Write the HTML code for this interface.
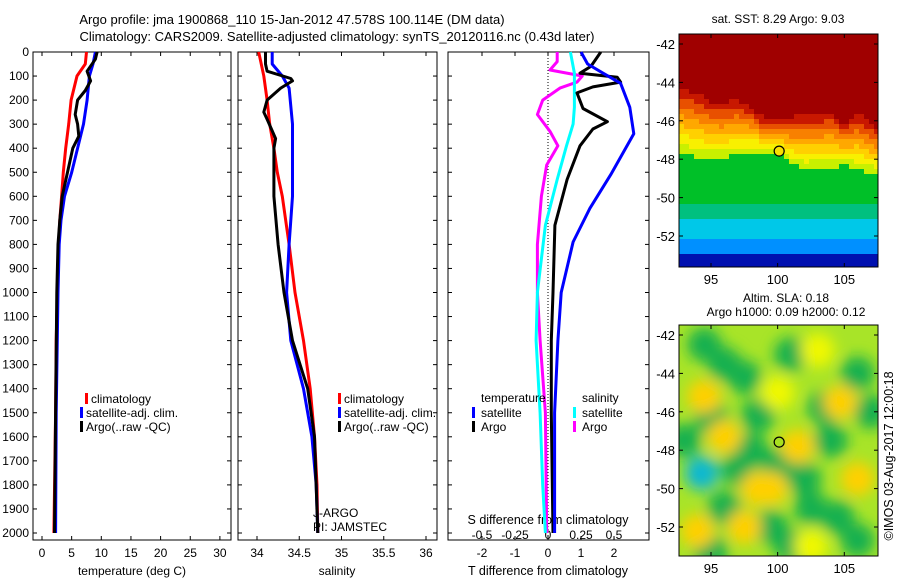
<!DOCTYPE html>
<html><head><meta charset="utf-8"><style>
body{margin:0;background:#fff;}
svg{display:block;font-family:"Liberation Sans",sans-serif;font-size:12px;}
</style></head><body>
<svg id="fig" width="900" height="580" viewBox="0 0 900 580">
<defs>
<filter id="blur1" x="-50%" y="-50%" width="200%" height="200%"><feGaussianBlur stdDeviation="7"/></filter>
<clipPath id="clipMap2"><rect x="679" y="325" width="199" height="231"/></clipPath>
<clipPath id="clipMap1"><rect x="679" y="34" width="199" height="233"/></clipPath>
</defs>
<text x="292" y="24" text-anchor="middle" font-size="13">Argo profile: jma 1900868_110 15-Jan-2012 47.578S 100.114E (DM data)</text>
<text x="337" y="41" text-anchor="middle" font-size="13">Climatology: CARS2009. Satellite-adjusted climatology: synTS_20120116.nc (0.43d later)</text>
<g id="layer"></g>
</svg>
<script>
// ---- data ----
const depthTC=[0,50,100,200,300,400,500,600,700,800,1000,1200,1500,2000];
const tempClim=[7.5,7.3,5.9,4.9,4.5,4.0,3.6,3.3,3.0,2.8,2.6,2.4,2.3,2.0];
const depthTS=[0,50,100,200,300,400,500,600,700,800,1000,1500,2000];
const tempSat=[9.0,8.6,8.0,7.6,7.0,6.0,5.0,3.8,3.2,2.9,2.7,2.4,2.3];
const depthTA=[0,30,80,120,160,200,260,300,350,400,500,600,700,800,1000,1500,2000];
const tempArgo=[9.3,9.0,7.6,8.2,7.3,6.0,5.6,6.0,6.2,5.2,4.3,3.4,3.0,2.7,2.5,2.3,2.1];
const depthSC=[0,100,200,300,400,500,600,800,1000,1200,1400,1600,1800,2000];
const salClim=[34.02,34.08,34.12,34.15,34.2,34.24,34.3,34.38,34.45,34.55,34.63,34.68,34.71,34.72];
const depthSS=[0,50,100,150,300,600,800,1000,1200,1400,1600,1800,2000];
const salSat=[34.18,34.18,34.3,34.38,34.42,34.42,34.38,34.35,34.4,34.55,34.65,34.7,34.72];
const depthSA=[0,50,80,110,120,150,200,250,280,320,360,400,600,800,1000,1200,1400,1600,2000];
const salArgo=[34.1,34.1,34.12,34.4,34.42,34.28,34.12,34.08,34.12,34.17,34.22,34.2,34.2,34.25,34.32,34.42,34.6,34.68,34.72];
const depthDB=[0,50,88,130,230,340,510,650,790,1000,1200,1500,2000];
const tDiffSat=[1.0,1.2,1.67,2.2,2.48,2.6,1.9,1.27,0.76,0.4,0.3,0.2,0.2];
const depthDK=[0,60,88,105,125,145,170,235,290,320,390,530,720,1000,1200,1500,2000];
const tDiffArgo=[1.6,1.3,0.97,2.1,2.2,1.36,0.88,1.06,1.8,1.36,0.97,0.58,0.21,0.15,0.1,0.1,0.15];
const depthDC=[0,88,230,300,390,530,720,1000,1200,1500,1800,2000];
const sDiffSat=[0.17,0.2,0.2,0.19,0.14,0.07,-0.02,-0.08,-0.09,-0.06,-0.04,-0.02];
const depthDM=[0,40,75,100,125,150,200,260,330,390,470,600,800,1000,1200,1500,2000];
const sDiffArgo=[0.07,0.07,0.015,0.26,0.22,0.09,-0.04,-0.08,0.015,0.075,-0.01,-0.05,-0.08,-0.08,-0.06,-0.02,-0.01];
const depthTicks=[0,100,200,300,400,500,600,700,800,900,1000,1100,1200,1300,1400,1500,1600,1700,1800,1900,2000];
const tempTicks=[0,5,10,15,20,25,30];
const salTicks=[34,34.5,35,35.5,36];
const tdTicks=[-2,-1,0,1,2];
const sdTicks=[-0.5,-0.25,0,0.25,0.5];
const latTicks=[-42,-44,-46,-48,-50,-52];
const lonTicks=[95,100,105];
// SST front: southward latitude of warm edge per longitude
const frontLon=[92.5,94,95,96,97,98,99,100,101,102,103,104,105,106,107.5];
const frontLat=[44.2,44.6,45.0,45.1,44.9,45.3,45.9,46.0,45.8,45.6,45.7,45.5,46.2,45.6,46.4];
const greenLat=[47.7,47.9,48.0,47.9,47.8,47.7,47.6,47.6,48.2,48.6,48.4,48.5,48.3,48.6,48.8];
// SLA blobs
const blobLon=[94.5,96,97.5,101,106,103.5,95,98.5,100,97,94.3,96,102.5,104.5,106,101,95,107,102,98,93,99.5,104, 94.5,104.7,96,101.5,99.5,106,94,97.5,103,100,102.5,98.5];
const blobLat=[-42.5,-43.5,-44.2,-43,-44,-45.8,-46.3,-46.2,-48.8,-49,-49.2,-51,-51,-51.5,-52.7,-53,-53.3,-46,-49.5,-48,-47.5,-52,-47.5, -45.2,-45.5,-47.3,-47.8,-50,-49.5,-52.2,-52,-42.8,-45,-53,-50];
const blobVal=[-1,-1,-1,-1,-1,-1,-1,-1,-1,-1,-2,-1,-1,-1,-1,-1,-1,-1,-1,-1,-1,-1,-1, 1,1,1,1,1,1,1,1,0.5,0.5,0.5,1];

// ---- helpers ----
const NS='http://www.w3.org/2000/svg';
const L=document.getElementById('layer');
function mk(t,a,p){const e=document.createElementNS(NS,t);for(const k in a)e.setAttribute(k,a[k]);(p||L).appendChild(e);return e;}
const yD=d=>52+d*0.2405;
function panel(x0,x1,name){
  const r=mk('rect',{x:x0,y:52,width:x1-x0,height:488,fill:'none',stroke:'#000','stroke-width':1});
  
  
  depthTicks.forEach(d=>{const y=yD(d);mk('line',{x1:x0,x2:x0+4,y1:y,y2:y,stroke:'#000'});mk('line',{x1:x1-4,x2:x1,y1:y,y2:y,stroke:'#000'});});
}
function line(xs,ds,fx,col,name){
  const pts=xs.map((v,i)=>fx(v).toFixed(1)+','+yD(ds[i]).toFixed(1)).join(' ');
  const p=mk('polyline',{points:pts,fill:'none',stroke:col,'stroke-width':3,'stroke-linejoin':'round'});
  
  
}
function txt(x,y,s,anchor,name,extra){
  const t=mk('text',Object.assign({x:x,y:y,'text-anchor':anchor||'start'},extra||{}));t.textContent=s;
  
  
  return t;
}
function xticks(vals,fx,labY,fmt,name){
  vals.forEach(v=>{const x=fx(v);mk('line',{x1:x,x2:x,y1:536,y2:540,stroke:'#000'});mk('line',{x1:x,x2:x,y1:52,y2:56,stroke:'#000'});
    txt(x,labY,fmt(v),'middle',name);});
}
function legBar(x,y,col){mk('rect',{x:x,y:y,width:3,height:11,fill:col});}

// ---- panel 1 temperature ----
const fT=t=>42+t*5.93;
panel(33,231,'temperature-axes');
depthTicks.forEach(d=>txt(29,yD(d)+4,String(d),'end','depth-tick-label'));
xticks(tempTicks,fT,557,v=>String(v),'temperature-tick-label');
txt(132,575,'temperature (deg C)','middle','temperature-axis-title');
line(tempClim,depthTC,fT,'#f00','temp-climatology-line');
line(tempSat,depthTS,fT,'#00f','temp-satellite-line');
line(tempArgo,depthTA,fT,'#000','temp-argo-line');
legBar(85,393,'#f00');txt(91,403,'climatology','start','legend-climatology');
legBar(80,407,'#00f');txt(86,417,'satellite-adj. clim.','start','legend-satellite');
legBar(80,421,'#000');txt(86,431,'Argo(..raw -QC)','start','legend-argo');

// ---- panel 2 salinity ----
const fS=s=>257+(s-34)*84.5;
panel(238,437,'salinity-axes');
xticks(salTicks,fS,557,v=>String(v),'salinity-tick-label');
txt(337,575,'salinity','middle','salinity-axis-title');
line(salClim,depthSC,fS,'#f00','sal-climatology-line');
line(salSat,depthSS,fS,'#00f','sal-satellite-line');
line(salArgo,depthSA,fS,'#000','sal-argo-line');
legBar(338,393,'#f00');txt(344,403,'climatology','start','legend-climatology-2');
legBar(338,407,'#00f');txt(344,417,'satellite-adj. clim.','start','legend-satellite-2');
legBar(338,421,'#000');txt(344,431,'Argo(..raw -QC)','start','legend-argo-2');
txt(313,517,'J-ARGO','start','float-program');
txt(313,531,'PI: JAMSTEC','start','float-pi');

// ---- panel 3 differences ----
const fTD=t=>548+t*33, fSD=s=>548+s*132;
panel(448,649,'difference-axes');
mk('line',{x1:548,x2:548,y1:52,y2:540,stroke:'#000','stroke-dasharray':'1,2'});
tdTicks.forEach(v=>{const x=fTD(v);mk('line',{x1:x,x2:x,y1:536,y2:540,stroke:'#000'});mk('line',{x1:x,x2:x,y1:52,y2:56,stroke:'#000'});txt(x,557,String(v),'middle','t-diff-tick-label');});
sdTicks.forEach(v=>txt(fSD(v),539,String(v),'middle','s-diff-tick-label'));
txt(548,524,'S difference from climatology','middle','s-diff-axis-title',{'font-size':'12.5'});
txt(548,575,'T difference from climatology','middle','t-diff-axis-title',{'font-size':'12.5'});
line(sDiffArgo,depthDM,fSD,'#f0f','s-diff-argo-line');
line(sDiffSat,depthDC,fSD,'#0ff','s-diff-satellite-line');
line(tDiffArgo,depthDK,fTD,'#000','t-diff-argo-line');
line(tDiffSat,depthDB,fTD,'#00f','t-diff-satellite-line');
txt(481,402,'temperature','start','legend-temperature-header');
txt(582,402,'salinity','start','legend-salinity-header');
legBar(472,407,'#00f');txt(481,417,'satellite','start','legend-t-satellite');
legBar(472,421,'#000');txt(481,431,'Argo','start','legend-t-argo');
legBar(573,407,'#0ff');txt(582,417,'satellite','start','legend-s-satellite');
legBar(573,421,'#f0f');txt(582,431,'Argo','start','legend-s-argo');

// ---- maps ----
const fLon=l=>711+(l-95)*13.33;
function interp(xa,ya,x){if(x<=xa[0])return ya[0];for(let i=1;i<xa.length;i++)if(x<=xa[i]){const t=(x-xa[i-1])/(xa[i]-xa[i-1]);return ya[i-1]+t*(ya[i]-ya[i-1]);}return ya[ya.length-1];}
function mapAxes(top,bot,y0lat,name){
  const r=mk('rect',{x:679,y:top,width:199,height:bot-top,fill:'none',stroke:'#000'});
  
  
  latTicks.forEach(la=>{const y=y0lat+(-42-la)*19.2;mk('line',{x1:679,x2:683,y1:y,y2:y,stroke:'#000'});mk('line',{x1:874,x2:878,y1:y,y2:y,stroke:'#000'});txt(675,y+5,String(la),'end','lat-tick-label',{'font-size':'13'});});
  lonTicks.forEach(lo=>{const x=fLon(lo);mk('line',{x1:x,x2:x,y1:bot-4,y2:bot,stroke:'#000'});mk('line',{x1:x,x2:x,y1:top,y2:top+4,stroke:'#000'});txt(x,bot+17,String(lo),'middle','lon-tick-label',{'font-size':'13'});});
}
// SST map
const warmCols=['#c81800','#e85000','#f88000','#ffa800','#ffd000','#f8f000','#c8f000'];
const g1=mk('g',{'clip-path':'url(#clipMap1)'});


for(let x=679;x<878;x+=5){for(let y=34;y<267;y+=5){
  const lon=95+(x+2.5-711)/13.33, s=42+(y+2.5-44)/19.2;
  const f=interp(frontLon,frontLat,lon), gl=interp(frontLon,greenLat,lon);
  let col;
  if(s<f) col='#a00000';
  else if(s<gl){const k=Math.min(warmCols.length-1,Math.floor((s-f)/(gl-f)*warmCols.length));col=warmCols[k];}
  else if(s<50.3) col='#00c028';
  else if(s<51.0) col='#00c080';
  else if(s<52.2) col='#00c8e8';
  else if(s<52.9) col='#0090ff';
  else col='#0010b0';
  mk('rect',{x:x,y:y,width:5,height:5,fill:col},g1);
}}
mapAxes(34,267,44,'sst-map-frame');
const m1=mk('circle',{cx:fLon(100.114),cy:44+5.578*19.2,r:5,fill:'#f8e000',stroke:'#000','stroke-width':1.2});


txt(778,23,'sat. SST: 8.29 Argo: 9.03','middle','sst-map-title');
// SLA map
const g2=mk('g',{'clip-path':'url(#clipMap2)'});


mk('rect',{x:679,y:325,width:199,height:231,fill:'#a8e428'},g2);
const gb=mk('g',{filter:'url(#blur1)'},g2);
blobLon.forEach((lo,i)=>{const v=blobVal[i];
  const col=v<=-2?'#10b8d0':v<0?'#18b050':v>=1?'#ffd000':'#f0f800';
  const c=mk('circle',{cx:fLon(lo),cy:335+(-42-blobLat[i])*19.2,r:17,fill:col},gb);
  
  
});
mapAxes(325,556,335,'sla-map-frame');
const m2=mk('circle',{cx:fLon(100.114),cy:335+5.578*19.2,r:5,fill:'#a8e020',stroke:'#000','stroke-width':1.2});


txt(786,302,'Altim. SLA: 0.18','middle','sla-map-title');
txt(786,316,'Argo h1000: 0.09 h2000: 0.12','middle','sla-map-subtitle');
txt(0,0,'©IMOS 03-Aug-2017 12:00:18','middle','imos-credit',{transform:'translate(893,456) rotate(-90)','font-size':'12.5'});
</script>
</body></html>
